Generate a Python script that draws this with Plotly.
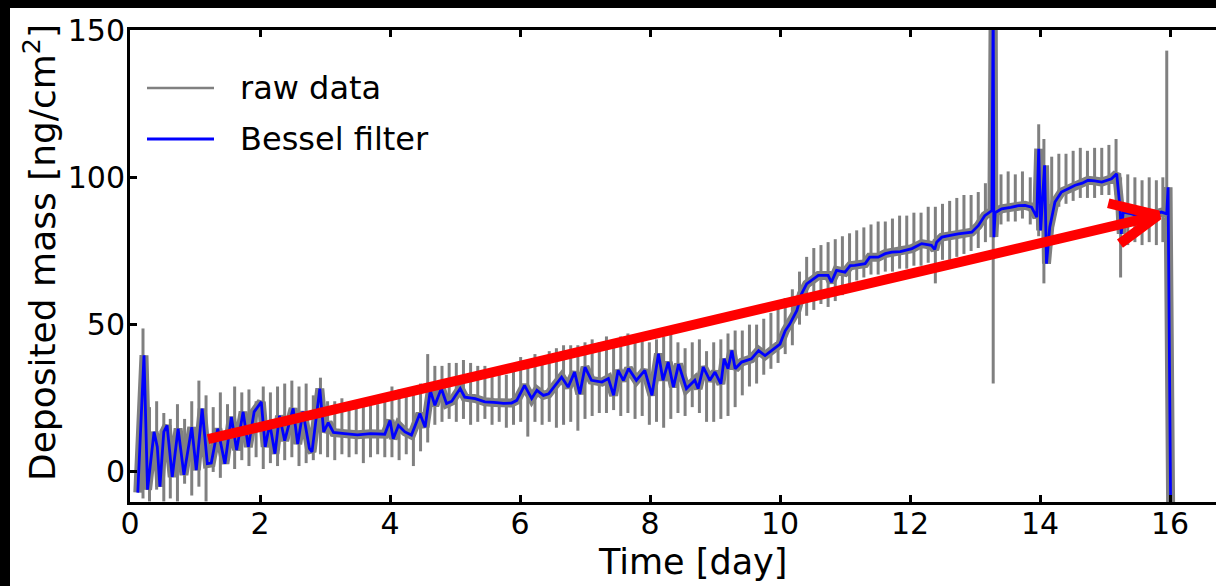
import plotly.graph_objects as go

# ---- Bessel-filtered series (time in days, deposited mass in ng/cm2) ----
blue_t = [0.12, 0.215, 0.27, 0.37, 0.42, 0.46, 0.52, 0.57, 0.65, 0.74, 0.83, 0.95, 1.02, 1.11,
          1.19, 1.25, 1.35, 1.46, 1.56, 1.64, 1.74, 1.82, 1.91, 2.02, 2.08, 2.15, 2.23, 2.30,
          2.38, 2.51, 2.58, 2.66, 2.76, 2.80, 2.92, 2.98, 3.05, 3.13, 3.30, 3.50, 3.70, 3.92,
          4.00, 4.05, 4.13, 4.23, 4.33, 4.46, 4.54, 4.62, 4.69, 4.79, 4.87, 4.95, 5.08, 5.15,
          5.31, 5.46, 5.60, 5.75, 5.87, 5.95, 6.07, 6.18, 6.26, 6.36, 6.44, 6.54, 6.64, 6.74,
          6.84, 6.92, 7.00, 7.10, 7.26, 7.36, 7.44, 7.51, 7.59, 7.67, 7.79, 7.92, 8.03, 8.13,
          8.20, 8.28, 8.36, 8.44, 8.56, 8.69, 8.74, 8.82, 8.92, 9.00, 9.09, 9.14, 9.20, 9.26,
          9.31, 9.41, 9.56, 9.67, 9.77, 9.87, 10.00, 10.08, 10.15, 10.26, 10.33, 10.41, 10.49,
          10.59, 10.74, 10.79, 10.87, 11.00, 11.08, 11.15, 11.31, 11.38, 11.51, 11.62, 11.72,
          11.85, 12.03, 12.18, 12.33, 12.38, 12.41, 12.49, 12.60, 12.74, 12.95, 13.05, 13.15,
          13.26, 13.28, 13.29, 13.31, 13.41, 13.55, 13.67, 13.77, 13.87, 13.95, 13.98, 14.01,
          14.07, 14.10, 14.15, 14.23, 14.33, 14.45, 14.54, 14.65, 14.74, 14.84, 14.95, 15.10,
          15.18, 15.23, 15.25, 15.28, 15.41, 15.52, 15.62, 15.70, 15.77, 15.87, 15.95, 15.97,
          16.02]
blue_v = [-7.0, 39.6, -6.0, 13.6, 8.5, -5.0, 13.6, 15.8, -1.7, 14.7, -1.0, 15.2, 0.6, 21.5,
          2.8, 3.0, 14.7, 2.8, 18.7, 7.4, 20.4, 8.5, 20.4, 23.8, 8.5, 16.4, 6.2, 19.1,
          10.6, 21.6, 9.5, 20.5, 8.0, 6.8, 28.3, 13.6, 16.7, 13.4, 13.0, 12.6, 13.0, 12.8,
          17.5, 11.3, 15.8, 13.6, 12.5, 19.8, 15.2, 27.7, 22.6, 28.3, 23.2, 24.0, 28.3, 25.4,
          24.9, 23.8, 23.6, 23.3, 23.4, 24.3, 29.4, 24.9, 27.7, 26.0, 26.5, 29.4, 32.2, 28.8,
          33.9, 26.5, 35.6, 31.1, 30.5, 31.7, 26.0, 34.5, 31.1, 35.1, 31.1, 34.5, 26.0, 40.1,
          31.1, 37.3, 28.8, 36.6, 28.3, 31.1, 28.3, 35.6, 31.1, 33.9, 29.9, 38.4, 35.0, 41.2,
          35.0, 37.3, 38.4, 41.2, 39.5, 41.2, 43.4, 47.9, 50.2, 54.8, 60.4, 63.8, 65.0,
          66.7, 66.7, 64.4, 68.4, 67.8, 70.0, 70.1, 70.7, 72.9, 72.9, 74.1, 74.6,
          74.8, 75.8, 77.5, 76.9, 75.5, 78.0, 79.7, 80.2, 80.8, 81.4, 83.6, 87.0,
          88.7, 160.0, 79.7, 88.0, 89.3, 89.8, 90.4, 90.5, 89.9, 86.5, 109.7, 82.0,
          104.1, 70.7, 83.1, 91.6, 95.0, 96.3, 97.3, 98.0, 99.0, 98.8, 98.4, 99.5,
          101.2, 89.9, 80.8, 88.2, 87.6, 86.8, 86.5, 87.2, 87.6, 88.2, 87.6, 96.6,
          -40.0]

# ---- raw data spikes: time, upper and lower extent ----
spike_t = [0.20, 0.30, 0.41, 0.52, 0.62, 0.73, 0.84, 0.95, 1.06, 1.17, 1.28, 1.39, 1.50, 1.61,
           1.72, 1.83, 1.94, 2.05, 2.16, 2.27, 2.38, 2.49, 2.60, 2.71, 2.82, 2.93, 3.04, 3.15,
           3.26, 3.37, 3.48, 3.59, 3.70, 3.81, 3.92, 4.03, 4.14, 4.25, 4.36, 4.47, 4.58, 4.69,
           4.80, 4.91, 5.02, 5.13, 5.24, 5.35, 5.46, 5.57, 5.68, 5.79, 5.90, 6.01, 6.12, 6.23,
           6.34, 6.45, 6.56, 6.67, 6.78, 6.89, 7.00, 7.11, 7.22, 7.33, 7.44, 7.55, 7.66, 7.77,
           7.88, 7.99, 8.10, 8.21, 8.32, 8.43, 8.54, 8.65, 8.76, 8.87, 8.98, 9.09, 9.20, 9.31,
           9.42, 9.53, 9.64, 9.75, 9.86, 9.97, 10.08, 10.19, 10.30, 10.41, 10.52, 10.63, 10.74,
           10.85, 10.96, 11.07, 11.18, 11.29, 11.40, 11.51, 11.62, 11.73, 11.84, 11.95, 12.06,
           12.17, 12.28, 12.39, 12.50, 12.61, 12.72, 12.83, 12.94, 13.05, 13.16, 13.28, 13.40,
           13.51, 13.62, 13.73, 13.85, 13.98, 14.06, 14.18, 14.29, 14.40, 14.51, 14.62, 14.73,
           14.84, 14.95, 15.06, 15.17, 15.24, 15.35, 15.46, 15.57, 15.68, 15.79, 15.89, 15.95,
           16.03]
spike_hi = [48.7, 22, 24, 20, 18, 23, 18, 24, 31, 26, 22, 27, 23, 29,
            27, 28, 24, 29, 27, 29, 30, 31, 29, 30, 26, 32, 24, 24,
            25, 23, 24, 24, 25, 23, 24, 29, 28, 27, 28, 30, 40, 36,
            36, 37, 37, 38, 37, 36, 36, 35, 34, 33, 35, 39, 37, 40,
            39, 41, 42, 43, 43, 43, 44, 45, 44, 46, 45, 46, 47, 46,
            47, 44, 45, 46, 47, 44, 42, 44, 45, 41, 44, 45, 47, 48,
            48, 50, 50, 52, 54, 57, 59, 62, 68, 73, 76, 77, 78,
            79, 80, 81, 82, 83, 84, 85, 85, 86, 87, 87, 88,
            88, 90, 90, 91, 92, 93, 94, 94, 95, 98, 160, 101,
            102, 101, 102, 100, 118, 113, 107, 108, 108, 109, 110, 109,
            110, 110, 111, 113, 100, 101, 100, 99, 100, 99, 100, 143,
            25]
spike_lo = [-9, -10, -6, -10, -9, -10, -4, -8, -5, -10, 0, -2, 3, 1,
            4, 2, 5, 1, 3, 2, 4, 5, 2, 3, 4, 6, 5, 4,
            6, 5, 6, 3, 5, 6, 5, 5, 4, 6, 2, 7, 10, 16,
            17, 18, 17, 18, 16, 17, 18, 16, 17, 15, 16, 17, 12, 17,
            16, 17, 15, 16, 17, 14, 18, 19, 20, 20, 21, 19, 20, 18,
            19, 16, 17, 15, 18, 20, 19, 22, 20, 17, 17, 18, 19, 22,
            26, 29, 30, 33, 35, 37, 40, 43, 50, 53, 55, 57, 56,
            58, 60, 63, 65, 66, 67, 67, 68, 68, 69, 69, 70,
            70, 71, 64, 72, 72, 73, 74, 75, 76, 78, 30, 84,
            85, 85, 86, 84, 80, 64, 88, 90, 91, 92, 93, 93,
            93, 94, 94, 94, 66, 77, 78, 77, 78, 77, 78, 85,
            -50]

# ---- red trend arrow (day, ng/cm2) ----
arrow_t = [1.2, 15.82]
arrow_v = [11.1, 87.1]
head_t = [15.05, 15.82, 15.23]
head_v = [91.2, 87.1, 77.5]

x_ticks = [0, 2, 4, 6, 8, 10, 12, 14, 16]
y_ticks = [0, 50, 100, 150]
legend_labels = ["raw data", "Bessel filter"]

GRAY = "#808080"
BLUE = "#0000ff"
RED = "#ff0000"

sx, sy = [], []
for t, hi, lo in zip(spike_t, spike_hi, spike_lo):
    sx += [t, t, None]
    sy += [lo, hi, None]

fig = go.Figure()
fig.add_trace(go.Scatter(x=blue_t, y=blue_v, mode="lines",
                         line=dict(color=GRAY, width=9), hoverinfo="skip",
                         showlegend=False))
fig.add_trace(go.Scatter(x=sx, y=sy, mode="lines", name=legend_labels[0],
                         line=dict(color=GRAY, width=3), connectgaps=False))
fig.add_trace(go.Scatter(x=blue_t, y=blue_v, mode="lines", name=legend_labels[1],
                         line=dict(color=BLUE, width=2.8)))
fig.add_trace(go.Scatter(x=arrow_t, y=arrow_v, mode="lines",
                         line=dict(color=RED, width=10), showlegend=False))
fig.add_trace(go.Scatter(x=head_t, y=head_v, mode="lines",
                         line=dict(color=RED, width=10), showlegend=False))

W, H = 1216, 586
L, R, T, B = 130, 0, 30, 84
pw, ph = W - L - R, H - T - B


def px(x):
    return (x - L) / pw


def py(y):
    return (H - B - y) / ph


shapes = [
    # black frame bands (top and left) from the screenshot
    dict(type="rect", xref="paper", yref="paper", x0=px(-5), x1=px(W + 5), y0=py(8), y1=py(-5),
         fillcolor="black", line=dict(width=0), layer="above"),
    dict(type="rect", xref="paper", yref="paper", x0=px(-5), x1=px(10), y0=py(H + 5), y1=py(-5),
         fillcolor="black", line=dict(width=0), layer="above"),
    # legend samples
    dict(type="line", xref="paper", yref="paper", x0=px(147), x1=px(214), y0=py(88), y1=py(88),
         line=dict(color=GRAY, width=2.5)),
    dict(type="line", xref="paper", yref="paper", x0=px(147), x1=px(214), y0=py(139), y1=py(139),
         line=dict(color=BLUE, width=2.8)),
]

annotations = [
    dict(text=legend_labels[0], xref="paper", yref="paper", x=px(238), y=py(88),
         xanchor="left", yanchor="middle", showarrow=False, font=dict(size=32)),
    dict(text=legend_labels[1], xref="paper", yref="paper", x=px(238), y=py(139),
         xanchor="left", yanchor="middle", showarrow=False, font=dict(size=32)),
    dict(text="Time [day]", xref="paper", yref="paper", x=px(692), y=py(562),
         xanchor="center", yanchor="middle", showarrow=False, font=dict(size=35)),
    dict(text="Deposited mass [ng/cm<sup>2</sup>]", xref="paper", yref="paper",
         x=px(40), y=py(253), textangle=-90, xanchor="center", yanchor="middle",
         showarrow=False, font=dict(size=36)),
]

fig.update_layout(
    width=W, height=H,
    margin=dict(l=L, r=R, t=T, b=B, pad=0),
    paper_bgcolor="white", plot_bgcolor="white",
    showlegend=False,
    font=dict(family="DejaVu Sans", color="black", size=30),
    shapes=shapes, annotations=annotations,
    xaxis=dict(range=[0, pw / 65.0], tickvals=x_ticks, ticktext=[str(v) for v in x_ticks],
               ticks="inside", ticklen=7, tickwidth=2.5, tickcolor="black",
               showline=True, linewidth=3, linecolor="black", mirror="ticks",
               showgrid=False, zeroline=False, tickfont=dict(size=30),
               ticklabelstandoff=-7),
    yaxis=dict(range=[-10.2, 150], tickvals=y_ticks, ticktext=[str(v) for v in y_ticks],
               ticks="inside", ticklen=7, tickwidth=2.5, tickcolor="black",
               showline=True, linewidth=3, linecolor="black", mirror=False,
               showgrid=False, zeroline=False, tickfont=dict(size=30),
               ticklabelstandoff=-4),
)

fig.write_html(
    "out.html",
    config={"displayModeBar": False},
    post_script="document.body.style.margin='0';document.body.style.overflow='hidden';",
)
